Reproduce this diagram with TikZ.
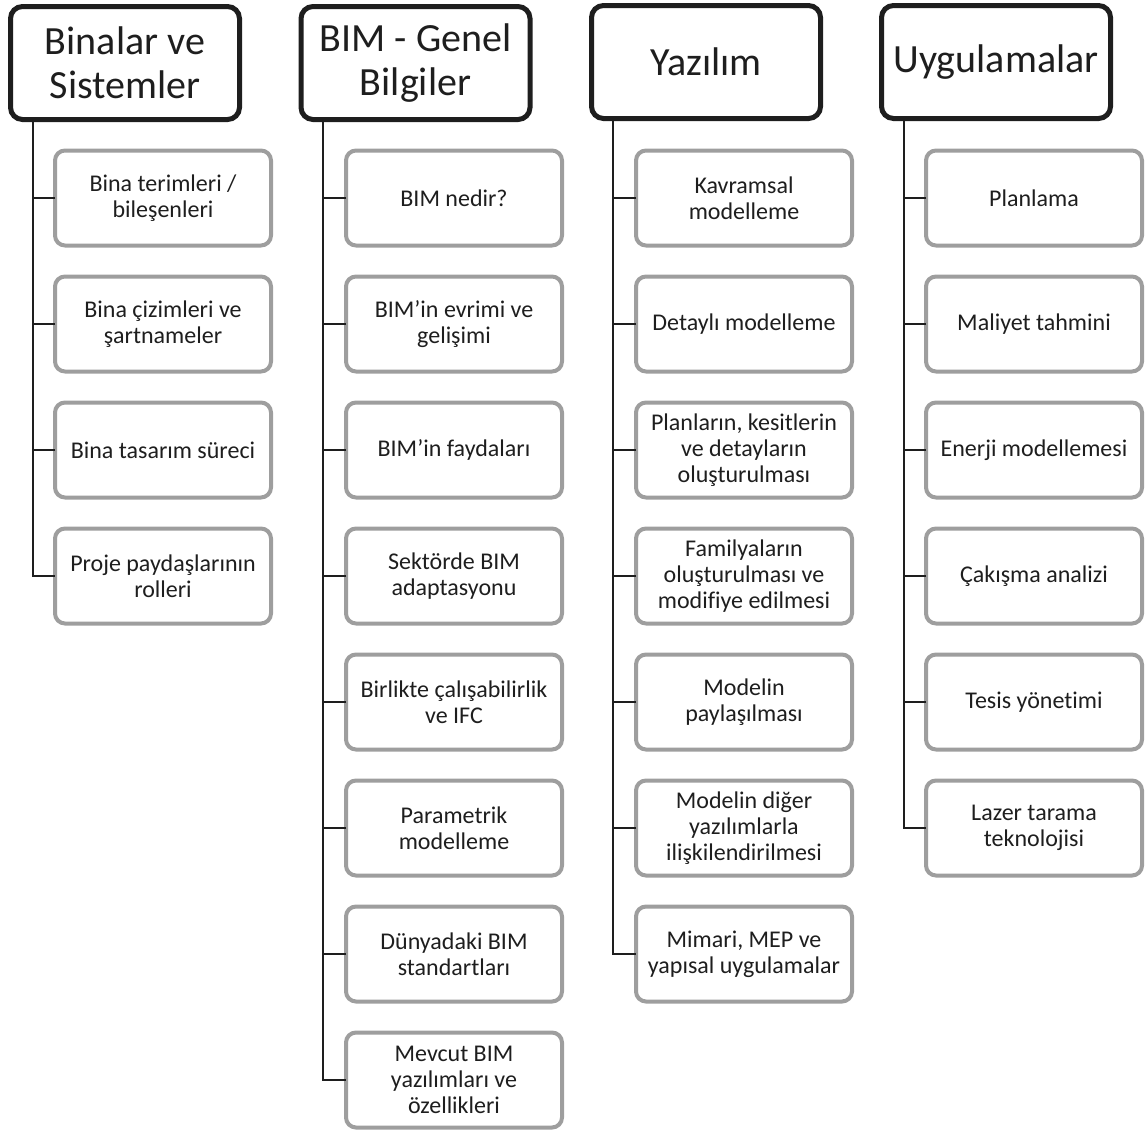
\documentclass[tikz,border=0pt]{standalone}
\usepackage{fontspec}
\setmainfont{Carlito}[Ligatures=NoCommon]
\definecolor{boxgray}{RGB}{158,158,158}
\definecolor{txt}{RGB}{30,30,30}
\begin{document}
\begin{tikzpicture}[x=1pt,y=-1pt,
  head/.style={draw=txt, line width=5pt, fill=white, rounded corners=12pt,
    minimum width=229pt, minimum height=113pt, inner sep=0pt, outer sep=0pt,
    align=center, text=txt, font=\fontsize{40}{44}\selectfont},
  item/.style={draw=boxgray, line width=4pt, fill=white, rounded corners=10pt,
    minimum width=216pt, minimum height=95pt, inner sep=0pt, outer sep=0pt,
    align=center, text=txt, font=\fontsize{24}{26}\selectfont},
  conn/.style={draw=txt, line width=2pt}]
\useasboundingbox (0,0) rectangle (1146,1133);

% headers
\node[head] (h1) at (125,63) {Binalar ve\\Sistemler};
\node[head] (h2) at (415.5,63) {BIM - Genel\\Bilgiler};
\node[head] (h3) at (706,62) {Yazılım};
\node[head] (h4) at (996,62) {Uygulamalar};

% trunk coordinates
\coordinate (t1) at (33,120);
\coordinate (t2) at (323,120);
\coordinate (t3) at (613,120);
\coordinate (t4) at (904,120);

% column 1
\node[item] (a1) at (163,198) {Bina terimleri /\\bileşenleri};
\node[item] (a2) at (163,324) {Bina çizimleri ve\\şartnameler};
\node[item] (a3) at (163,450) {Bina tasarım süreci};
\node[item] (a4) at (163,576) {Proje paydaşlarının\\rolleri};

% column 2
\node[item] (b1) at (454,198) {BIM nedir?};
\node[item] (b2) at (454,324) {BIM’in evrimi ve\\gelişimi};
\node[item] (b3) at (454,450) {BIM’in faydaları};
\node[item] (b4) at (454,576) {Sektörde BIM\\adaptasyonu};
\node[item] (b5) at (454,702) {Birlikte çalışabilirlik\\ve IFC};
\node[item] (b6) at (454,828) {Parametrik\\modelleme};
\node[item] (b7) at (454,954) {Dünyadaki BIM\\standartları};
\node[item] (b8) at (454,1080) {Mevcut BIM\\yazılımları ve\\özellikleri};

% column 3
\node[item] (c1) at (744,198) {Kavramsal\\modelleme};
\node[item] (c2) at (744,324) {Detaylı modelleme};
\node[item] (c3) at (744,450) {Planların, kesitlerin\\ve detayların\\oluşturulması};
\node[item] (c4) at (744,576) {Familyaların\\oluşturulması ve\\modifiye edilmesi};
\node[item] (c5) at (744,702) {Modelin\\paylaşılması};
\node[item] (c6) at (744,828) {Modelin diğer\\yazılımlarla\\ilişkilendirilmesi};
\node[item] (c7) at (744,954) {Mimari, MEP ve\\yapısal uygulamalar};

% column 4
\node[item] (d1) at (1034,198) {Planlama};
\node[item] (d2) at (1034,324) {Maliyet tahmini};
\node[item] (d3) at (1034,450) {Enerji modellemesi};
\node[item] (d4) at (1034,576) {Çakışma analizi};
\node[item] (d5) at (1034,702) {Tesis yönetimi};
\node[item] (d6) at (1034,828) {Lazer tarama\\teknolojisi};

% connectors
\draw[conn] (t1) |- (a4.west);
\foreach \n in {a1,a2,a3} \draw[conn] (\n.west) -- (\n.west -| t1);
\draw[conn] (t2) |- (b8.west);
\foreach \n in {b1,b2,b3,b4,b5,b6,b7} \draw[conn] (\n.west) -- (\n.west -| t2);
\draw[conn] (t3) |- (c7.west);
\foreach \n in {c1,c2,c3,c4,c5,c6} \draw[conn] (\n.west) -- (\n.west -| t3);
\draw[conn] (t4) |- (d6.west);
\foreach \n in {d1,d2,d3,d4,d5} \draw[conn] (\n.west) -- (\n.west -| t4);
\end{tikzpicture}
\end{document}
